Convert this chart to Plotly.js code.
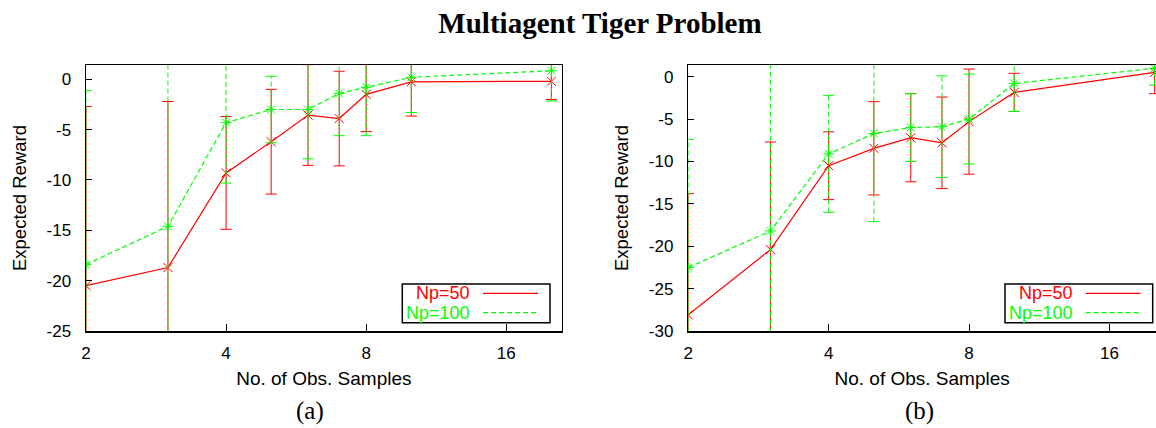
<!DOCTYPE html>
<html><head><meta charset="utf-8">
<script src="https://cdn.plot.ly/plotly-3.0.1.min.js"></script>
<style>html,body{margin:0;padding:0;background:#fff}</style>
</head><body><div id="chart" style="width:1156px;height:428px"></div>
<script>
// ---- data ----
const samples = [2, 3, 4, 5, 6, 7, 8, 10, 20];
const xTicks = [2, 4, 8, 16];
const a_np50      = [-20.5, -18.7, -9.3, -6.2, -3.55, -3.9, -1.5, -0.25, -0.2];
const a_np50_err  = [17.8, 16.5, 5.6, 5.2, 5.0, 4.7, 3.7, 3.4, 1.8];
const a_np100     = [-18.4, -14.6, -4.3, -3.0, -3.0, -1.4, -0.8, 0.2, 0.85];
const a_np100_err = [17.3, 17.0, 6.0, 3.3, 4.9, 4.2, 4.8, 3.5, 3.0];
const b_np50      = [-28.1, -20.4, -10.5, -8.45, -7.2, -7.8, -5.3, -1.85, 0.5];
const b_np50_err  = [14.3, 12.7, 4.0, 5.5, 5.2, 5.4, 6.2, 2.25, 2.5];
const b_np100     = [-22.5, -18.2, -9.1, -6.7, -6.0, -5.9, -5.0, -0.8, 1.0];
const b_np100_err = [15.1, 20.5, 6.9, 10.4, 4.0, 6.0, 5.3, 3.3, 2.0];
const seriesNames = ['Np=50', 'Np=100'];
const yTicksA = [-25, -20, -15, -10, -5, 0];
const yTicksB = [-30, -25, -20, -15, -10, -5, 0];

const RED = '#ff0000', GREEN = '#00ff00';
const DASH = '5px,3px';
const SANS = 'Liberation Sans, Arial, sans-serif';
const SERIF = 'Liberation Serif, Times New Roman, serif';

function series(xa, ya, y, e, color, dash, symbol, name) {
  const ex = [], ey = [];
  samples.forEach((x, i) => { ex.push(x, x, null); ey.push(y[i] - e[i], y[i] + e[i], null); });
  const lows = y.map((v, i) => v - e[i]), highs = y.map((v, i) => v + e[i]);
  return [
    {x: ex, y: ey, xaxis: xa, yaxis: ya, mode: 'lines', showlegend: false, hoverinfo: 'skip',
     line: {color: color, width: 1, dash: dash}},
    {x: samples.concat(samples), y: lows.concat(highs), xaxis: xa, yaxis: ya, mode: 'markers',
     showlegend: false, hoverinfo: 'skip',
     marker: {symbol: 'line-ew-open', size: 8, color: color, line: {color: color, width: 1}}},
    {x: samples, y: y, xaxis: xa, yaxis: ya, mode: 'lines+markers', name: name, showlegend: false,
     line: {color: color, width: 1.2, dash: dash},
     marker: {symbol: symbol, size: 9, color: color, line: {color: color, width: 1}}}
  ];
}

const traces = [].concat(
  series('x', 'y', a_np50, a_np50_err, RED, 'solid', 'x-thin-open', seriesNames[0]),
  series('x', 'y', a_np100, a_np100_err, GREEN, DASH, 'asterisk-open', seriesNames[1]),
  series('x2', 'y2', b_np50, b_np50_err, RED, 'solid', 'x-thin-open', seriesNames[0]),
  series('x2', 'y2', b_np100, b_np100_err, GREEN, DASH, 'asterisk-open', seriesNames[1])
);

const W = 1156, H = 428;
const px = v => v / W, py = v => 1 - v / H;

function xAxis(domain, maxv) {
  return {
    type: 'log', domain: domain, range: [Math.log10(2), Math.log10(maxv)],
    tickvals: xTicks, ticktext: xTicks.map(String), ticks: 'inside', ticklen: 7, tickcolor: '#000',
    showline: true, mirror: true, linecolor: '#000', linewidth: 1.5,
    showgrid: false, zeroline: false, ticklabelstandoff: 6,
    tickfont: {family: SANS, size: 17, color: '#000'},
    title: {text: 'No. of Obs. Samples', font: {family: SANS, size: 19, color: '#000'}, standoff: 10}
  };
}
function yAxis(range, ticks, mirror) {
  return {
    domain: [py(331), py(65)], range: range, tickvals: ticks, ticktext: ticks.map(String),
    ticks: 'inside', ticklen: 6, tickcolor: '#000',
    showline: true, mirror: mirror, linecolor: '#000', linewidth: 1.5,
    showgrid: false, zeroline: false, ticklabelstandoff: 10,
    tickfont: {family: SANS, size: 17, color: '#000'},
    title: {text: 'Expected Reward', font: {family: SANS, size: 18.5, color: '#000'}, standoff: 15}
  };
}

const shapes = [], annotations = [];
[0, 602.7].forEach(off => {
  shapes.push({type: 'rect', xref: 'paper', yref: 'paper', x0: px(402.3 + off), x1: px(550 + off),
    y0: py(322.7), y1: py(284), line: {color: '#000', width: 1.5}, fillcolor: '#fff', layer: 'above'});
  shapes.push({type: 'line', xref: 'paper', yref: 'paper', x0: px(483 + off), x1: px(538 + off),
    y0: py(293.3), y1: py(293.3), line: {color: RED, width: 1.2}, layer: 'above'});
  shapes.push({type: 'line', xref: 'paper', yref: 'paper', x0: px(483 + off), x1: px(538 + off),
    y0: py(312.7), y1: py(312.7), line: {color: GREEN, width: 1.2, dash: DASH}, layer: 'above'});
  annotations.push({xref: 'paper', yref: 'paper', x: px(472 + off), y: py(293.3), xanchor: 'right',
    yanchor: 'middle', showarrow: false, text: seriesNames[0], font: {family: SANS, size: 18, color: RED}});
  annotations.push({xref: 'paper', yref: 'paper', x: px(472 + off), y: py(312.7), xanchor: 'right',
    yanchor: 'middle', showarrow: false, text: seriesNames[1], font: {family: SANS, size: 18, color: GREEN}});
});
annotations.push({xref: 'paper', yref: 'paper', x: px(310), y: py(411), xanchor: 'center', yanchor: 'middle',
  showarrow: false, text: '(a)', font: {family: SERIF, size: 25, color: '#000'}});
annotations.push({xref: 'paper', yref: 'paper', x: px(919), y: py(411), xanchor: 'center', yanchor: 'middle',
  showarrow: false, text: '(b)', font: {family: SERIF, size: 25, color: '#000'}});

const layout = {
  width: W, height: H, margin: {l: 0, r: 0, t: 0, b: 0},
  paper_bgcolor: '#fff', plot_bgcolor: '#fff', showlegend: false,
  title: {text: '<b>Multiagent Tiger Problem</b>', x: px(600), xanchor: 'center', y: py(23), yref: 'container',
    yanchor: 'middle', font: {family: SERIF, size: 29, color: '#000'}},
  xaxis: xAxis([px(86), px(561.7)], 21.05),
  yaxis: yAxis([-25, 1.42], yTicksA, true),
  xaxis2: Object.assign(xAxis([px(688.3), 1], 20.14), {anchor: 'y2'}),
  yaxis2: Object.assign(yAxis([-30, 1.38], yTicksB, false), {anchor: 'x2'}),
  shapes: shapes, annotations: annotations
};
layout.xaxis.anchor = 'y';
layout.yaxis.anchor = 'x';

Plotly.newPlot('chart', traces, layout, {displayModeBar: false, staticPlot: true});
</script></body></html>
